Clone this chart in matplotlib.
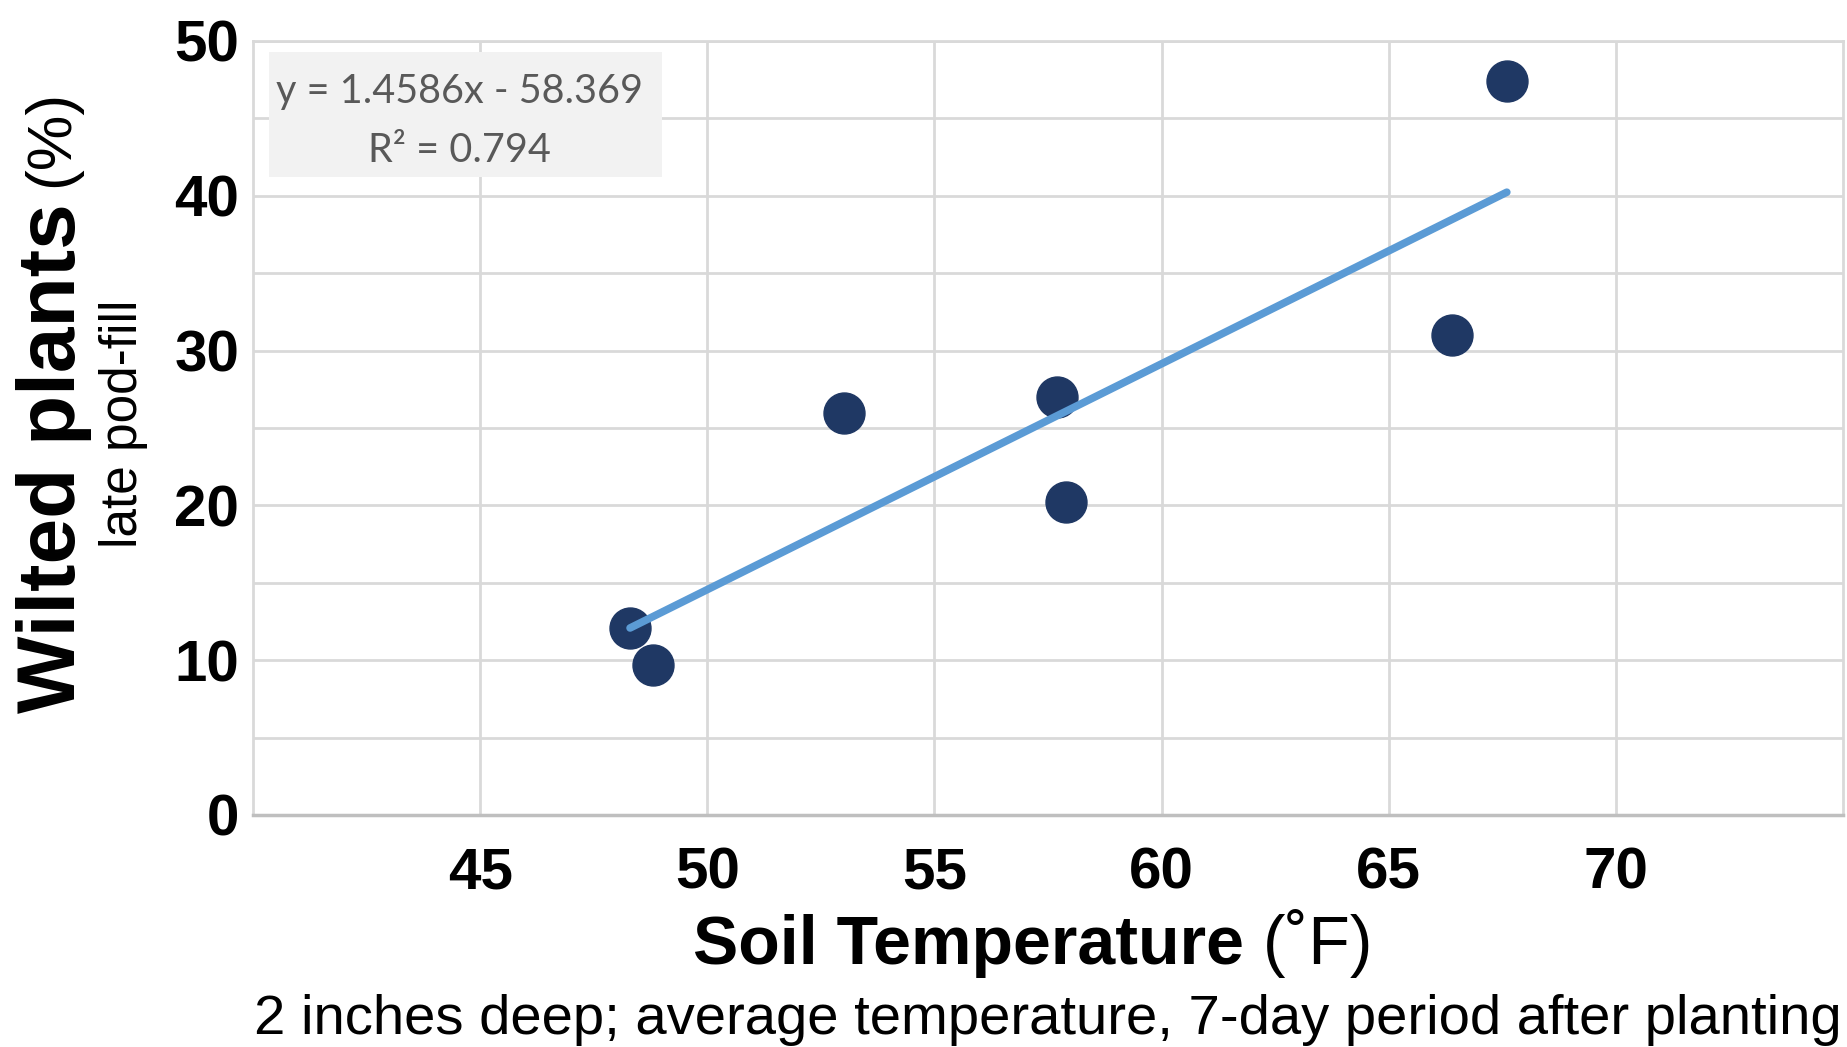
import matplotlib
matplotlib.use("Agg")
import matplotlib.pyplot as plt
from matplotlib.patches import Rectangle
import numpy as np

# data
soil_temp = [48.3, 48.8, 53.0, 57.7, 57.9, 66.4, 67.6]
wilted = [12.1, 9.7, 26.0, 27.0, 20.2, 31.0, 47.4]
slope, intercept = 1.4586, -58.369
eq_text = "y = 1.4586x - 58.369"
r2_text = "R² = 0.794"
x_ticks = [45, 50, 55, 60, 65, 70]
y_ticks = [0, 10, 20, 30, 40, 50]
y_minor = [5, 15, 25, 35, 45]

W, H = 1847, 1047
fig = plt.figure(figsize=(W / 100, H / 100), dpi=100)
ax = fig.add_axes([253 / W, 1 - 815 / H, 1590 / W, 774 / H])

grid_c = "#D9D9D9"
ax.set_xlim(40, 75)
ax.set_ylim(0, 50)
ax.set_xticks(x_ticks)
ax.set_yticks(y_ticks)
ax.set_yticks(y_minor, minor=True)
ax.grid(True, which="both", color=grid_c, lw=2, zorder=0)
ax.set_axisbelow(True)
ax.tick_params(which="both", length=0)
ax.tick_params(axis="x", pad=23)
ax.tick_params(axis="y", pad=10)
for lab in ax.get_xticklabels():
    lab.set_fontfamily("Liberation Sans")
    lab.set_fontweight("bold")
    lab.set_fontsize(42)
for lab in ax.get_yticklabels():
    lab.set_fontfamily("Liberation Sans")
    lab.set_fontweight("bold")
    lab.set_fontsize(42)
for s in ["left", "top", "right"]:
    ax.spines[s].set_color(grid_c)
    ax.spines[s].set_linewidth(2)
ax.spines["bottom"].set_color("#BFBFBF")
ax.spines["bottom"].set_linewidth(2.5)

# points and linear trendline
ax.plot(soil_temp, wilted, "o", ms=29.5, color="#1F3864", zorder=3)
xl = np.array([min(soil_temp), max(soil_temp)])
ax.plot(xl, slope * xl + intercept, color="#5B9BD5", lw=5.5,
        solid_capstyle="round", zorder=4)

# equation box
ax.add_patch(Rectangle((0.0101, 0.8243), 0.2471, 0.1615, transform=ax.transAxes,
                       facecolor="#F2F2F2", edgecolor="none", zorder=5))
ax.text(0.1296, 0.9354, eq_text, transform=ax.transAxes, ha="center", va="center",
        fontsize=28.5, family="Lato", color="#595959", zorder=6)
ax.text(0.1296, 0.859, r2_text, transform=ax.transAxes, ha="center", va="center",
        fontsize=28.5, family="Lato", color="#595959", zorder=6)

# y axis title: bold part + regular part
fig.canvas.draw()
r = fig.canvas.get_renderer()
t1 = fig.text(54 / W, 1 - 713 / H, "Wilted plants", rotation=90, ha="center",
              va="bottom", fontsize=59, fontweight="bold", family="Liberation Sans")
bb = t1.get_window_extent(r)
fig.text(52 / W, (bb.y1 + 16) / H, "(%)", rotation=90, ha="center", va="bottom",
         fontsize=45, family="Liberation Sans")
fig.text(124 / W, 1 - 424 / H, "late pod-fill", rotation=90, ha="center",
         va="center", fontsize=37, family="Liberation Sans")

# x axis title
xa = fig.text(0, 0, "Soil Temperature", fontsize=49, fontweight="bold",
              family="Liberation Sans", va="baseline")
xb = fig.text(0, 0, " (˚F)", fontsize=49, family="Liberation Sans", va="baseline")
wa = xa.get_window_extent(r).width
wb = xb.get_window_extent(r).width
x0 = 1033 - (wa + wb) / 2
ybase = 1 - 964 / H
xa.set_position((x0 / W, ybase))
xb.set_position(((x0 + wa) / W, ybase))

fig.text(1048 / W, 1 - 1034 / H,
         "2 inches deep; average temperature, 7-day period after planting",
         ha="center", va="baseline", fontsize=40.5, family="Liberation Sans")

fig.savefig("out.png", dpi=100)
plt.close(fig)
